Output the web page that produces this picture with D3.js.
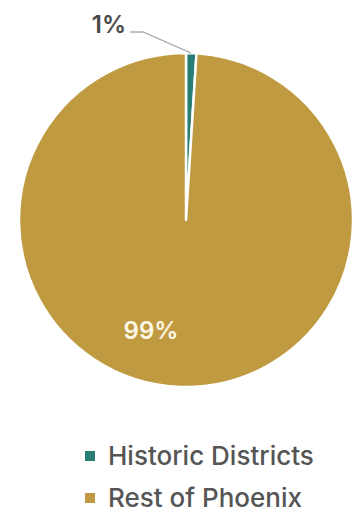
<!DOCTYPE html>
<html>
<head>
<meta charset="utf-8">
<script src="https://cdn.jsdelivr.net/npm/d3@7/dist/d3.min.js"></script>
<style>
  html, body { margin: 0; padding: 0; background: #ffffff; }
  svg { display: block; }
</style>
</head>
<body>
<svg id="chart" width="356" height="514"></svg>
<script>
// Share of Phoenix area: historic districts vs. the rest of the city
const categories = ["Historic Districts", "Rest of Phoenix"];
const values = [1, 99];
const valueLabels = ["1%", "99%"];
const colors = ["#287e74", "#c09a41"];

const svg = d3.select("#chart");
const cx = 186, cy = 220, radius = 167;

const pie = d3.pie().sort(null).value(d => d.value);
const arcs = pie(categories.map((c, i) => ({ name: c, value: values[i], label: valueLabels[i] })));
const arc = d3.arc().innerRadius(0).outerRadius(radius);

const g = svg.append("g").attr("transform", `translate(${cx},${cy})`);

g.selectAll("path.slice")
  .data(arcs)
  .enter().append("path")
  .attr("class", "slice")
  .attr("d", arc)
  .attr("fill", (d, i) => colors[i])
  .attr("stroke", "#ffffff")
  .attr("stroke-width", 2.5)
  .attr("stroke-linejoin", "round");

// Small slice: outside label with a leader line
const small = arcs[0];
const mid = (small.startAngle + small.endAngle) / 2;
const edge = [Math.sin(mid) * radius, -Math.cos(mid) * radius];
const elbow = [-43, -188];
const lineEnd = [-56, -188];
g.append("polyline")
  .attr("points", [edge, elbow, lineEnd].map(p => p.join(",")).join(" "))
  .attr("fill", "none")
  .attr("stroke", "#a9adb3")
  .attr("stroke-width", 1.3);

g.append("text")
  .attr("x", lineEnd[0] - 4)
  .attr("y", lineEnd[1] + 1)
  .attr("text-anchor", "end")
  .attr("font-family", "Inter, 'Noto Sans', sans-serif")
  .attr("font-weight", 600)
  .attr("font-size", 24)
  .attr("fill", "#4a4a4a")
  .text(small.data.label);

// Large slice: label inside
g.append("text")
  .attr("x", -35)
  .attr("y", 119)
  .attr("text-anchor", "middle")
  .attr("font-family", "Inter, 'Noto Sans', sans-serif")
  .attr("font-weight", 600)
  .attr("font-size", 24)
  .attr("fill", "#fdf7e6")
  .text(arcs[1].data.label);

// Legend
const legend = svg.append("g").attr("transform", "translate(85,0)");
const rows = legend.selectAll("g.row")
  .data(categories)
  .enter().append("g")
  .attr("class", "row")
  .attr("transform", (d, i) => `translate(0,${465 + i * 42})`);

rows.append("rect")
  .attr("x", 0)
  .attr("y", -14)
  .attr("width", 10)
  .attr("height", 10)
  .attr("fill", (d, i) => colors[i]);

rows.append("text")
  .attr("x", 23)
  .attr("y", 0)
  .attr("font-family", "Inter, 'Noto Sans', sans-serif")
  .attr("font-weight", 500)
  .attr("font-size", 26)
  .attr("fill", "#555555")
  .text(d => d);
</script>
</body>
</html>
